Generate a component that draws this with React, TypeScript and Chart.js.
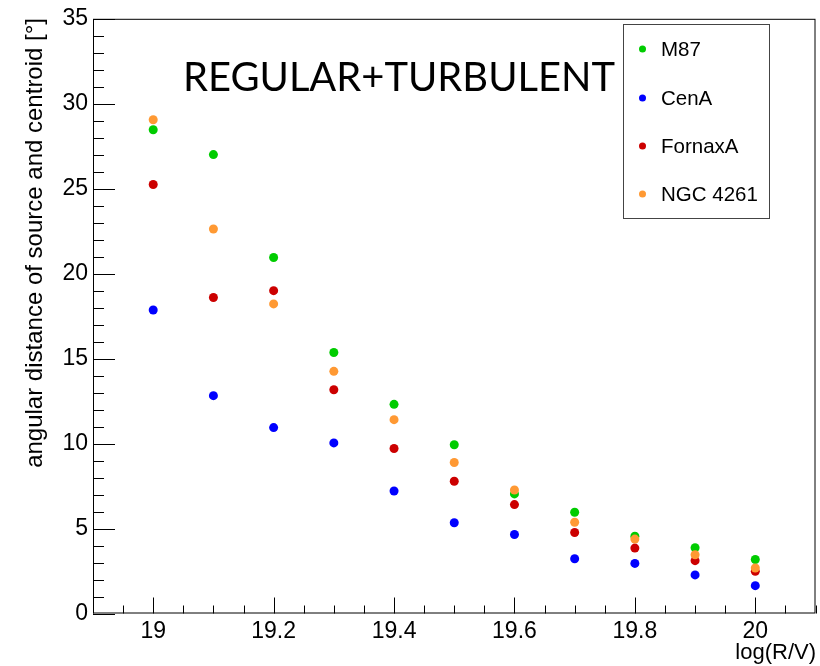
import React, { useEffect, useRef } from "react";
import { Chart, registerables } from "chart.js";

Chart.register(...registerables);

const xValues = [19.0, 19.1, 19.2, 19.3, 19.4, 19.5, 19.6, 19.7, 19.8, 19.9, 20.0];
const m87 = [28.47, 27.01, 20.95, 15.36, 12.31, 9.93, 7.04, 5.96, 4.55, 3.87, 3.18];
const cenA = [17.86, 12.82, 10.94, 10.04, 7.21, 5.34, 4.65, 3.22, 2.95, 2.27, 1.64];
const fornaxA = [25.25, 18.6, 19.0, 13.17, 9.71, 7.78, 6.41, 4.77, 3.85, 3.11, 2.48];
const ngc4261 = [29.06, 22.63, 18.22, 14.25, 11.41, 8.89, 7.27, 5.37, 4.38, 3.46, 2.68];

const seriesNames = ["M87", "CenA", "FornaxA", "NGC 4261"];
const seriesColors = ["#00cc00", "#0000ff", "#cc0000", "#ff9933"];

const xTicks = [19.0, 19.2, 19.4, 19.6, 19.8, 20.0];
const yTicks = [0, 5, 10, 15, 20, 25, 30, 35];
const xMinorStep = 0.05;
const yMinorStep = 1;

const titleText = "REGULAR+TURBULENT";
const xTitle = "log(R/V)";
const yTitle = "angular distance of source and centroid [°]";

const FONT = "'Liberation Sans', Arial, Helvetica, sans-serif";

const decorPlugin = {
  id: "decor",
  afterDraw(chart: any) {
    const ctx = chart.ctx as CanvasRenderingContext2D;
    const { left, right, top, bottom } = chart.chartArea;
    const xs = chart.scales.x;
    const ys = chart.scales.y;
    ctx.save();
    // frame
    ctx.strokeStyle = "#000";
    ctx.lineWidth = 1;
    ctx.strokeRect(left + 0.5, top + 0.5, right - left - 1, bottom - top - 1);
    // x ticks
    ctx.beginPath();
    const xmin = xs.min, xmax = xs.max;
    for (let i = Math.ceil(xmin / xMinorStep - 1e-6); i * xMinorStep <= xmax + 1e-9; i++) {
      const v = i * xMinorStep;
      const px = Math.round(xs.getPixelForValue(v)) + 0.5;
      const isMajor = xTicks.some((t) => Math.abs(t - v) < 1e-6);
      const len = isMajor ? 16 : 8;
      ctx.moveTo(px, bottom);
      ctx.lineTo(px, bottom - len);
    }
    // y ticks
    for (let v = ys.min; v <= ys.max + 1e-9; v += yMinorStep) {
      const py = Math.round(ys.getPixelForValue(v)) + 0.5;
      const isMajor = yTicks.some((t) => Math.abs(t - v) < 1e-6);
      const len = isMajor ? 22 : 11;
      ctx.moveTo(left, py);
      ctx.lineTo(left + len, py);
    }
    ctx.stroke();

    // big title
    ctx.fillStyle = "#000";
    ctx.font = "40px Lato, 'Open Sans', sans-serif";
    ctx.textBaseline = "alphabetic";
    ctx.textAlign = "left";
    const w = ctx.measureText(titleText).width;
    const targetW = 432;
    ctx.save();
    ctx.translate(183, 91);
    ctx.scale(targetW / w, 1);
    ctx.fillText(titleText, 0, 0);
    ctx.restore();

    // axis titles
    ctx.font = "22px " + FONT;
    ctx.textAlign = "right";
    ctx.textBaseline = "alphabetic";
    ctx.fillText(xTitle, 816, 659);

    ctx.save();
    ctx.translate(41.5, 18);
    ctx.rotate(-Math.PI / 2);
    ctx.font = "24px " + FONT;
    ctx.textAlign = "right";
    ctx.fillText(yTitle, 0, 0);
    ctx.restore();

    // legend
    const lx = 623.5, ly = 24.5, lw = 146, lh = 194;
    ctx.fillStyle = "#fff";
    ctx.fillRect(lx, ly, lw, lh);
    ctx.strokeStyle = "#444";
    ctx.lineWidth = 1;
    ctx.strokeRect(lx, ly, lw, lh);
    const rowY = [49, 98, 146, 194];
    ctx.font = "20.5px " + FONT;
    ctx.textAlign = "left";
    ctx.textBaseline = "middle";
    for (let i = 0; i < seriesNames.length; i++) {
      ctx.fillStyle = seriesColors[i];
      ctx.beginPath();
      ctx.arc(642.5, rowY[i], 3.5, 0, Math.PI * 2);
      ctx.fill();
      ctx.fillStyle = "#000";
      ctx.fillText(seriesNames[i], 661, rowY[i] + 1);
    }
    ctx.restore();
  },
};

export default function App() {
  const canvasRef = useRef<HTMLCanvasElement | null>(null);

  useEffect(() => {
    const canvas = canvasRef.current;
    if (!canvas) return;
    const series = [m87, cenA, fornaxA, ngc4261];
    const datasets = series.map((vals, i) => ({
      label: seriesNames[i],
      data: vals.map((y, j) => ({ x: xValues[j], y })),
      backgroundColor: seriesColors[i],
      borderColor: seriesColors[i],
      pointRadius: 4.5,
      pointBorderWidth: 0,
      pointHoverRadius: 4.5,
      showLine: false,
      order: series.length - 1 - i,
    }));

    const chart = new Chart(canvas, {
      type: "scatter",
      data: { datasets },
      options: {
        animation: false,
        responsive: false,
        maintainAspectRatio: false,
        layout: { padding: { top: 17, right: 3, left: 0, bottom: 0 } },
        plugins: {
          legend: { display: false },
          tooltip: { enabled: false },
          title: { display: false },
        },
        scales: {
          x: {
            type: "linear",
            min: 18.9,
            max: 20.1,
            grid: { display: false, drawTicks: false },
            border: { display: false },
            afterBuildTicks: (scale: any) => {
              scale.ticks = xTicks.map((v) => ({ value: v }));
            },
            afterFit: (scale: any) => {
              scale.height = 52.5;
            },
            ticks: {
              padding: 4,
              color: "#000",
              font: { family: FONT, size: 23 },
              maxRotation: 0,
              autoSkip: false,
              callback: (v: any) => String(Number(v)),
            },
          },
          y: {
            type: "linear",
            min: 0,
            max: 35,
            grid: { display: false, drawTicks: false },
            border: { display: false },
            afterBuildTicks: (scale: any) => {
              scale.ticks = yTicks.map((v) => ({ value: v }));
            },
            afterFit: (scale: any) => {
              scale.width = 93;
            },
            ticks: {
              padding: 5,
              color: "#000",
              font: { family: FONT, size: 23 },
              autoSkip: false,
              callback: (v: any) => String(Number(v)),
            },
          },
        },
      },
      plugins: [decorPlugin],
    });
    return () => chart.destroy();
  }, []);

  return (
    <div style={{ position: "fixed", left: 0, top: 0, width: 820, height: 666, background: "#fff" }}>
      <canvas ref={canvasRef} width={820} height={666} style={{ width: 820, height: 666, display: "block" }} />
    </div>
  );
}
